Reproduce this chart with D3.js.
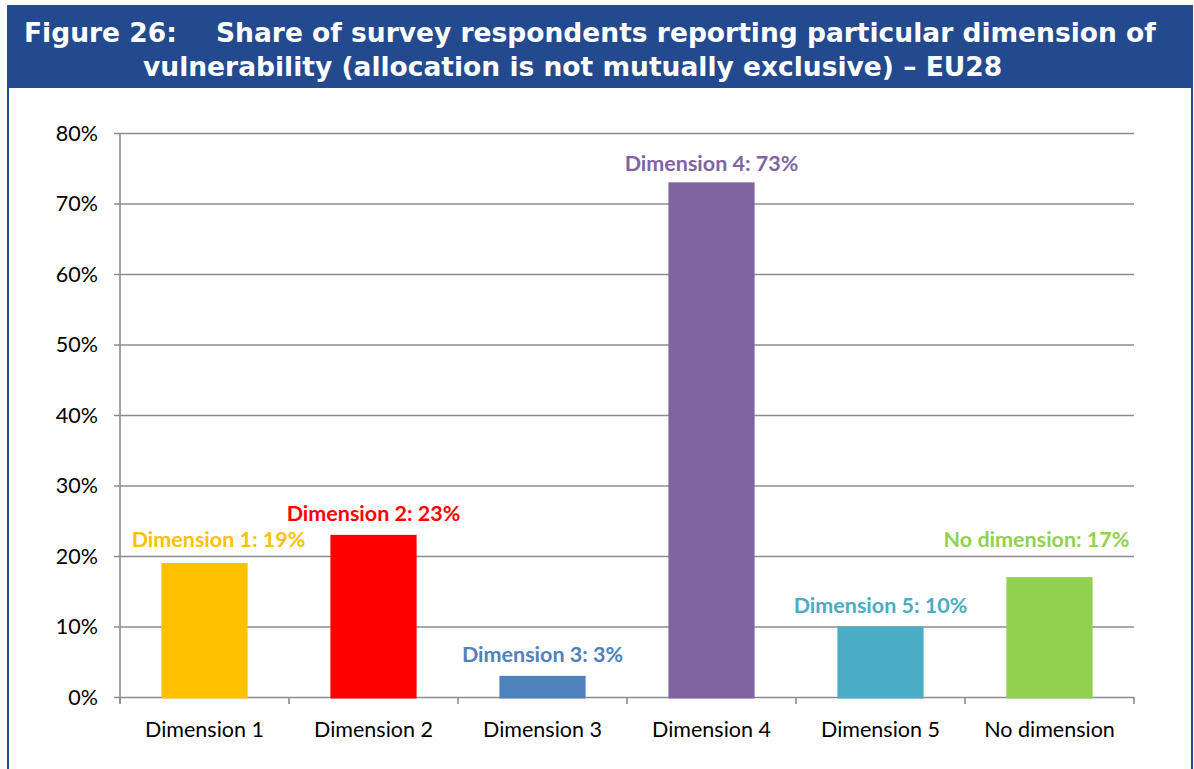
<!DOCTYPE html>
<html>
<head>
<meta charset="utf-8">
<script src="https://cdn.jsdelivr.net/npm/d3@7/dist/d3.min.js"></script>
<style>
  html, body { margin: 0; padding: 0; background: #fff; }
  svg { display: block; }
</style>
</head>
<body>
<svg id="chart" width="1194" height="769"></svg>
<script>
// Survey data: share of respondents per vulnerability dimension (EU28)
const categories = ["Dimension 1", "Dimension 2", "Dimension 3", "Dimension 4", "Dimension 5", "No dimension"];
const labelNames = ["Dimension 1", "Dimension 2", "Dimension 3", "Dimension 4", "Dimension 5", "No dimension"];
const shares = [0.19, 0.23, 0.03, 0.73, 0.10, 0.17];
const yTicks = [0, 0.1, 0.2, 0.3, 0.4, 0.5, 0.6, 0.7, 0.8];

// Presentation
const barColors = ["#FFC000", "#FF0000", "#4F81BD", "#8064A2", "#4BACC6", "#92D050"];
// Nudges applied to individual data labels (dx, dy in px)
const labelNudge = [[14, -2], [0, 0], [0, 0], [0, 3], [0, 0], [-13, -16]];

const svg = d3.select("#chart");
const W = 1194, H = 769;

// Frame and title band
const blue = "#234A8E";
svg.append("rect").attr("x", 7).attr("y", 5).attr("width", 1186).attr("height", 83).attr("fill", blue);
svg.append("line").attr("x1", 8).attr("x2", 8).attr("y1", 5).attr("y2", H).attr("stroke", blue).attr("stroke-width", 2);
svg.append("line").attr("x1", 1192).attr("x2", 1192).attr("y1", 5).attr("y2", H).attr("stroke", blue).attr("stroke-width", 2);

const titleFont = "'DejaVu Sans', Verdana, sans-serif";
const title = svg.append("g").attr("fill", "#fff").attr("font-family", titleFont)
  .attr("font-weight", "bold").attr("font-size", 26.5);
title.append("text").attr("x", 24).attr("y", 42).text("Figure 26:");
title.append("text").attr("x", 216).attr("y", 42).text("Share of survey respondents reporting particular dimension of");
title.append("text").attr("x", 143).attr("y", 76).text("vulnerability (allocation is not mutually exclusive) \u2013 EU28");

// Plot area
const margin = { left: 120, right: 1134, top: 133, bottom: 697 };
const x = d3.scaleBand().domain(categories).range([margin.left, margin.right]).paddingInner(0.49).paddingOuter(0.245);
const y = d3.scaleLinear().domain([0, 0.8]).range([margin.bottom, margin.top]);

const gridColor = "#8C8C8C";
const font = "Lato, 'Open Sans', sans-serif";
const fs = 21.5;

// Horizontal gridlines with small outward ticks
const grid = svg.append("g")
  .attr("transform", `translate(${margin.left},0)`)
  .call(d3.axisLeft(y).tickValues(yTicks).tickSize(-(margin.right - margin.left)).tickFormat(""));
grid.select(".domain").remove();
grid.selectAll(".tick line").attr("stroke", gridColor).attr("stroke-width", 1.6).attr("x1", -6);

// Y axis line
svg.append("line").attr("x1", margin.left).attr("x2", margin.left)
  .attr("y1", margin.top).attr("y2", margin.bottom + 6)
  .attr("stroke", gridColor).attr("stroke-width", 1.6);

// Y tick labels
svg.append("g").selectAll("text").data(yTicks).join("text")
  .attr("x", 98).attr("y", d => y(d)).attr("dy", "0.35em")
  .attr("text-anchor", "end").attr("font-family", font).attr("font-size", fs).attr("fill", "#000")
  .text(d3.format(".0%"));

// Bars
svg.append("g").selectAll("rect").data(shares).join("rect")
  .attr("x", (d, i) => x(categories[i]))
  .attr("width", x.bandwidth())
  .attr("y", d => y(d))
  .attr("height", d => y(0) - y(d) + 1.5)
  .attr("fill", (d, i) => barColors[i]);

// Category boundary ticks on the x axis
const step = x.step();
const bounds = d3.range(categories.length + 1).map(i => margin.left + i * step);
svg.append("g").selectAll("line").data(bounds).join("line")
  .attr("x1", d => d).attr("x2", d => d)
  .attr("y1", margin.bottom).attr("y2", margin.bottom + 7)
  .attr("stroke", gridColor).attr("stroke-width", 1.6);

// Category labels
svg.append("g").selectAll("text").data(categories).join("text")
  .attr("x", d => x(d) + x.bandwidth() / 2).attr("y", 737)
  .attr("text-anchor", "middle").attr("font-family", font).attr("font-size", fs).attr("fill", "#000")
  .text(d => d);

// Data labels
svg.append("g").selectAll("text").data(shares).join("text")
  .attr("x", (d, i) => x(categories[i]) + x.bandwidth() / 2 + labelNudge[i][0])
  .attr("y", (d, i) => y(d) - 14 + labelNudge[i][1])
  .attr("text-anchor", "middle").attr("font-family", font).attr("font-weight", "bold")
  .attr("font-size", fs).attr("fill", (d, i) => barColors[i])
  .text((d, i) => `${labelNames[i]}: ${Math.round(d * 100)}%`);
</script>
</body>
</html>
